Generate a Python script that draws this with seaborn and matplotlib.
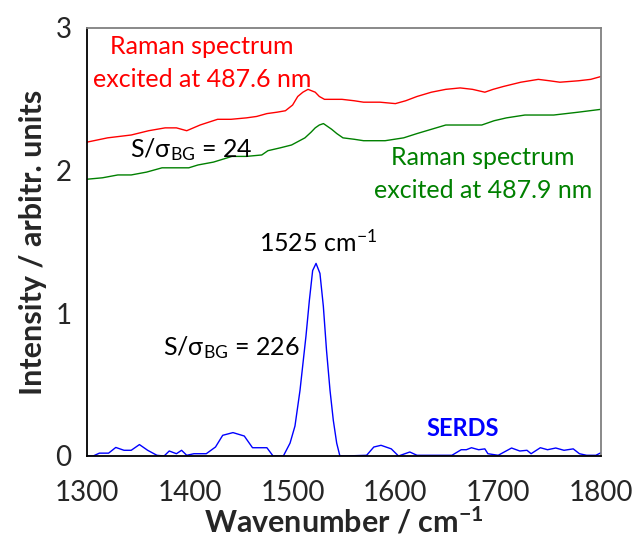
import numpy as np
import pandas as pd
import matplotlib
matplotlib.use("Agg")
import matplotlib.pyplot as plt
import seaborn as sns

red_x = [1300, 1320, 1343, 1360, 1376, 1387, 1397, 1410, 1427, 1440, 1455, 1465, 1475, 1485, 1493, 1500, 1505, 1510, 1515, 1522, 1526, 1531, 1540, 1548, 1560, 1569, 1585, 1600, 1610, 1621, 1635, 1649, 1663, 1675, 1687, 1695, 1705, 1722, 1739, 1750, 1760, 1778, 1790, 1800]
red_y = [2.20, 2.23, 2.25, 2.28, 2.30, 2.30, 2.28, 2.32, 2.36, 2.36, 2.37, 2.38, 2.40, 2.41, 2.42, 2.46, 2.52, 2.55, 2.57, 2.55, 2.52, 2.50, 2.50, 2.50, 2.49, 2.48, 2.48, 2.47, 2.49, 2.52, 2.55, 2.57, 2.58, 2.57, 2.55, 2.57, 2.59, 2.62, 2.64, 2.63, 2.62, 2.63, 2.64, 2.66]

green_x = [1300, 1315, 1330, 1343, 1358, 1373, 1387, 1399, 1408, 1423, 1441, 1455, 1470, 1476, 1488, 1499, 1512, 1518, 1522, 1526, 1530, 1534, 1538, 1543, 1549, 1560, 1569, 1590, 1608, 1621, 1635, 1649, 1665, 1684, 1696, 1708, 1726, 1754, 1778, 1800]
green_y = [1.94, 1.95, 1.97, 1.97, 1.99, 2.02, 2.02, 2.02, 2.04, 2.06, 2.10, 2.10, 2.11, 2.14, 2.16, 2.18, 2.23, 2.27, 2.30, 2.32, 2.33, 2.31, 2.29, 2.26, 2.23, 2.22, 2.21, 2.21, 2.23, 2.26, 2.29, 2.32, 2.32, 2.32, 2.35, 2.37, 2.39, 2.39, 2.41, 2.43]

blue_x = [1300, 1306, 1312, 1321, 1328, 1336, 1343, 1351, 1359, 1368, 1375, 1380, 1387, 1392, 1397, 1404, 1416, 1425, 1432, 1442, 1453, 1461, 1475, 1481, 1491, 1497.5, 1502.3, 1507.2, 1510.4, 1513, 1516.3, 1519.5, 1522.8, 1526.6, 1529.9, 1533, 1536.4, 1539.6, 1542.9, 1546, 1551, 1572, 1579, 1586, 1596, 1603, 1614, 1621, 1655, 1664, 1669, 1674, 1681, 1687, 1690, 1700, 1713, 1721, 1728, 1732, 1741, 1748, 1756, 1764, 1773, 1779, 1786, 1795, 1800]
blue_y = [0.0, 0.0, 0.02, 0.02, 0.06, 0.04, 0.04, 0.08, 0.04, 0.005, 0.0, 0.035, 0.016, 0.04, 0.005, 0.016, 0.016, 0.063, 0.145, 0.164, 0.14, 0.058, 0.058, 0.0, 0.0, 0.09, 0.21, 0.46, 0.67, 0.84, 1.09, 1.30, 1.35, 1.28, 1.05, 0.74, 0.46, 0.25, 0.09, 0.0, 0.0, 0.005, 0.063, 0.075, 0.05, 0.0, 0.028, 0.005, 0.005, 0.044, 0.044, 0.058, 0.044, 0.05, 0.016, 0.005, 0.056, 0.035, 0.04, 0.016, 0.058, 0.044, 0.056, 0.04, 0.05, 0.016, 0.005, 0.005, 0.023]

x_ticks = [1300, 1400, 1500, 1600, 1700, 1800]
y_ticks = [0, 1, 2, 3]

sns.set_style("white")
plt.rcParams['font.family'] = ['Lato', 'DejaVu Sans']
plt.rcParams['mathtext.fontset'] = 'custom'
plt.rcParams['mathtext.rm'] = 'Lato'
plt.rcParams['mathtext.bf'] = 'Lato:bold'
plt.rcParams['mathtext.it'] = 'Lato:italic'

fig = plt.figure(figsize=(6.32, 5.4), dpi=100)
ax = fig.add_axes([87/632, 84/540, 514/632, 428/540])

sns.lineplot(x=red_x, y=red_y, ax=ax, color='#ff0000', lw=1.0)
sns.lineplot(x=green_x, y=green_y, ax=ax, color='#008000', lw=1.0)
sns.lineplot(x=blue_x, y=blue_y, ax=ax, color='#0000ff', lw=1.0)

ax.set_xlim(1300, 1800)
ax.set_ylim(0, 3)
ax.set_xticks(x_ticks)
ax.set_yticks(y_ticks)
ax.tick_params(axis='both', direction='out', length=8, width=1.2, color='#808080', labelsize=20)
ax.tick_params(axis='x', pad=9)
ax.tick_params(axis='y', pad=3)
for s in ['left', 'bottom']:
    ax.spines[s].set_color('black')
    ax.spines[s].set_linewidth(1.3)
for s in ['top', 'right']:
    ax.spines[s].set_color('#808080')
    ax.spines[s].set_linewidth(1.3)

ax.set_xlabel('Wavenumber / cm$^{\\mathbf{-1}}$', fontsize=22, fontweight='bold', labelpad=0)
ax.set_ylabel('Intensity / arbitr. units', fontsize=22, fontweight='bold', labelpad=6)

fs = 18
ax.text(1412, 2.87, 'Raman spectrum', color='#ff0000', fontsize=fs, ha='center', va='center')
ax.text(1412, 2.64, 'excited at 487.6 nm', color='#ff0000', fontsize=fs, ha='center', va='center')
ax.text(1685, 2.09, 'Raman spectrum', color='#008000', fontsize=fs, ha='center', va='center')
ax.text(1685, 1.86, 'excited at 487.9 nm', color='#008000', fontsize=fs, ha='center', va='center')
ax.text(1342, 2.15, 'S/σ$_{\\mathregular{BG}}$ = 24', color='black', fontsize=fs, ha='left', va='center')
ax.text(1374, 0.76, 'S/σ$_{\\mathregular{BG}}$ = 226', color='black', fontsize=fs, ha='left', va='center')
ax.text(1525, 1.5, '1525 cm$^{\\mathregular{-1}}$', color='black', fontsize=fs, ha='center', va='center')
ax.text(1665, 0.19, 'SERDS', color='#0000ff', fontsize=17, fontweight='bold', ha='center', va='center')

fig.savefig('out.png', dpi=100)
